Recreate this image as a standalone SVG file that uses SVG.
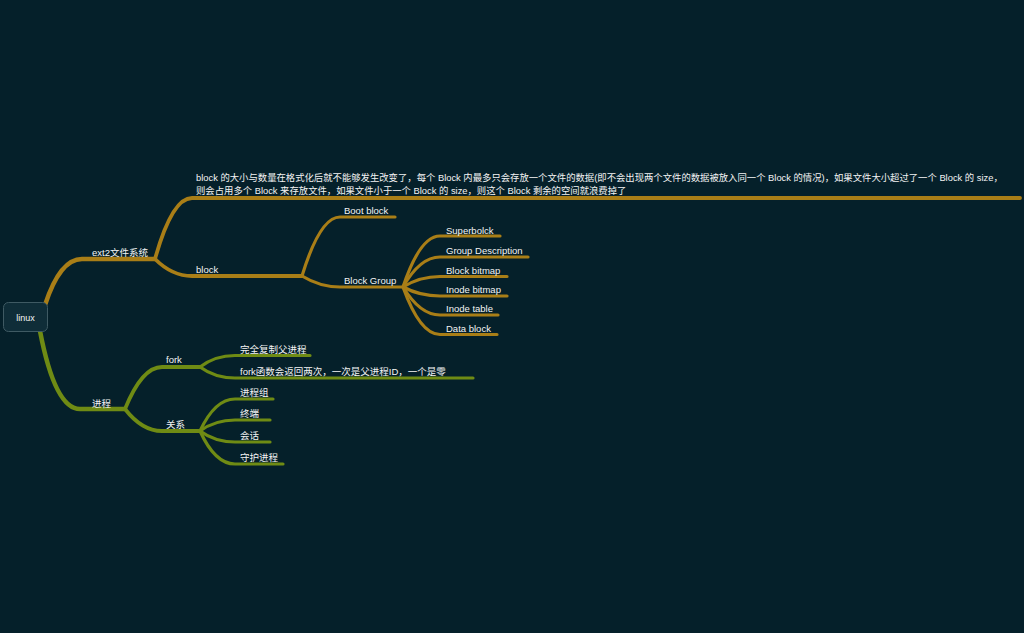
<svg xmlns="http://www.w3.org/2000/svg" width="1024" height="633" viewBox="0 0 1024 633">
<style>
text{font-family:"Liberation Sans","Noto Sans CJK SC",sans-serif;font-size:9.5px;fill:#f4f4f4}
.long{font-size:9.35px}
.g{fill:none;stroke:#a97e17;stroke-linecap:round}
.v{fill:none;stroke:#6f8b14;stroke-linecap:round}
.w1{stroke-width:4.5}
.w2{stroke-width:3.8}
.w3{stroke-width:3.2}
</style>
<rect width="1024" height="633" fill="#05202a"/>
<g id="connectors">
<path class="g w1" d="M45,305 Q60,259 82,259 L155,259"/>
<path class="g w2" d="M155,259 Q172,198 192,198 L1020,198"/>
<path class="g w2" d="M155,259 Q172,276 192,276 L302,276"/>
<path class="g w3" d="M302,276 Q320,217 340,217 L395,217"/>
<path class="g w3" d="M302,276 Q320,287 340,287 L403,287"/>
<path class="g w3" d="M403,287 Q420,236 440,236 L500,236"/>
<path class="g w3" d="M403,287 Q420,257 440,257 L528,257"/>
<path class="g w3" d="M403,287 Q420,276.5 440,276.5 L507,276.5"/>
<path class="g w3" d="M403,287 Q420,296 440,296 L507,296"/>
<path class="g w3" d="M403,287 Q420,315 440,315 L498,315"/>
<path class="g w3" d="M403,287 Q420,334.5 440,334.5 L497,334.5"/>
<path class="v w1" d="M40,331 Q55,409 80,409 L125,409"/>
<path class="v w2" d="M125,409 Q142,367 162,367 L200,367"/>
<path class="v w2" d="M125,409 Q142,431 162,431 L200,431"/>
<path class="v w3" d="M200,367 Q215,355.5 235,355.5 L310,355.5"/>
<path class="v w3" d="M200,367 Q215,378 235,378 L473,378"/>
<path class="v w3" d="M200,431 Q215,399 235,399 L273,399"/>
<path class="v w3" d="M200,431 Q215,420 235,420 L270,420"/>
<path class="v w3" d="M200,431 Q215,442 235,442 L270,442"/>
<path class="v w3" d="M200,431 Q215,464 235,464 L283,464"/>
</g>
<g id="root">
<rect x="3.5" y="302.5" width="44" height="29" rx="5" fill="#0f2d38" stroke="#3f5a63" stroke-width="1"/>
<text x="25.5" y="320.5" text-anchor="middle" style="font-size:9px">linux</text>
</g>
<g id="ext2"><text x="92" y="256">ext2文件系统</text></g>
<g id="blockdesc">
<text class="long" x="196" y="181">block 的大小与数量在格式化后就不能够发生改变了，每个 Block 内最多只会存放一个文件的数据(即不会出现两个文件的数据被放入同一个 Block 的情况)，如果文件大小超过了一个 Block 的 size，</text>
<text class="long" x="196" y="193.5">则会占用多个 Block 来存放文件，如果文件小于一个 Block 的 size，则这个 Block 剩余的空间就浪费掉了</text>
</g>
<g id="block"><text x="196" y="272.5">block</text></g>
<g id="bootblock"><text x="344" y="214">Boot block</text></g>
<g id="blockgroup"><text x="344" y="283.5">Block Group</text></g>
<g id="superblock"><text x="446" y="233.5">Superbolck</text></g>
<g id="groupdesc"><text x="446" y="253.5">Group Description</text></g>
<g id="blockbitmap"><text x="446" y="273.5">Block bitmap</text></g>
<g id="inodebitmap"><text x="446" y="293">Inode bitmap</text></g>
<g id="inodetable"><text x="446" y="312">Inode table</text></g>
<g id="datablock"><text x="446" y="332">Data block</text></g>
<g id="process"><text x="92" y="406.5">进程</text></g>
<g id="fork"><text x="166" y="362.5">fork</text></g>
<g id="relation"><text x="166" y="428">关系</text></g>
<g id="copy"><text x="240" y="352.5">完全复制父进程</text></g>
<g id="forkret"><text x="240" y="374.5">fork函数会返回两次，一次是父进程ID，一个是零</text></g>
<g id="pgroup"><text x="240" y="396">进程组</text></g>
<g id="terminal"><text x="240" y="417">终端</text></g>
<g id="session"><text x="240" y="439">会话</text></g>
<g id="daemon"><text x="240" y="460.5">守护进程</text></g>
</svg>
